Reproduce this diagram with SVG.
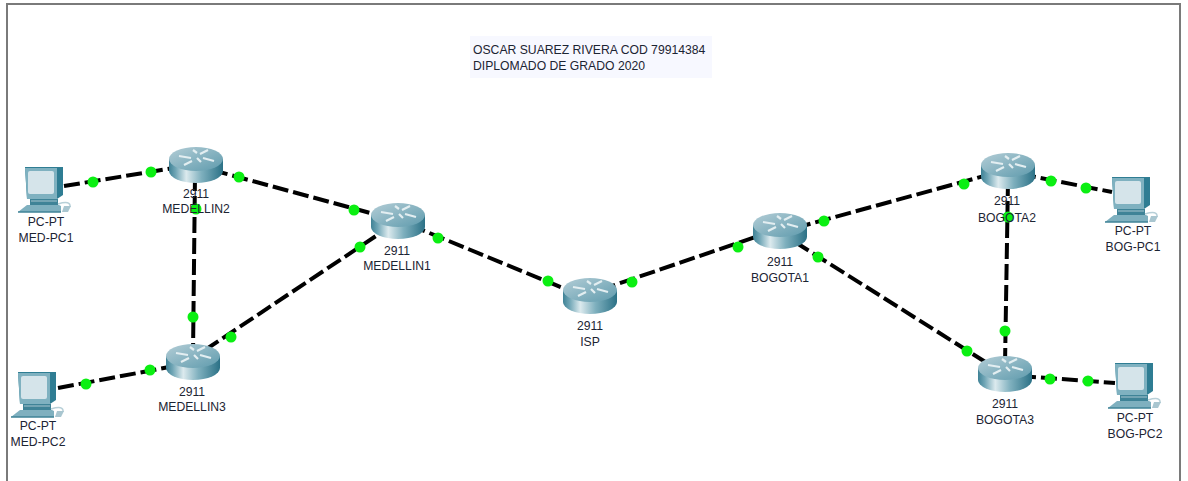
<svg xmlns="http://www.w3.org/2000/svg" width="1188" height="481" viewBox="0 0 1188 481">
<style>
text{font-family:"Liberation Sans",Arial,sans-serif;font-size:12.2px;fill:#1c2433;text-anchor:middle}
.note{text-anchor:start}
.l{stroke:#000;stroke-width:4;stroke-dasharray:16 5;fill:none}
.d{fill:#0bef12}
.f{stroke:#7a7a7a;stroke-width:2;fill:none}
</style>
<defs>
<linearGradient id="rb" x1="0" x2="1" y1="0" y2="0">
<stop offset="0" stop-color="#3f8296"/><stop offset=".12" stop-color="#6fa5b5"/><stop offset=".32" stop-color="#dceaee"/><stop offset=".6" stop-color="#7fb0be"/><stop offset="1" stop-color="#2b7186"/>
</linearGradient>
<linearGradient id="rt" x1="0" x2="1" y1="0" y2="1">
<stop offset="0" stop-color="#b3cdd6"/><stop offset="1" stop-color="#5f9bad"/>
</linearGradient>
<symbol id="router" overflow="visible">
<path d="M-27 0V12A27 12 0 0 0 27 12V0Z" fill="url(#rb)"/>
<ellipse rx="27" ry="12" fill="url(#rt)"/>
<path d="M-17-3L-5-1M-3-9L1-6M5 3L1-1M7-1L18 2M-12 6L-4 2M4-5L12-9" stroke="#e3eef1" stroke-width="2.2" fill="none"/>
</symbol>
<symbol id="pc" overflow="visible">
<path d="M0 0H38V28L32 32H2Z" fill="#2f7d93"/>
<path d="M0 1H32V32H2Z" fill="#7fb1c0"/>
<rect x="3" y="4" width="26" height="23" rx="2" fill="#d5e4ea"/>
<path d="M5 32H33V38H5Z" fill="#3f8397"/>
<path d="M6 34H32" stroke="#a9c6d0" stroke-width="1"/>
<path d="M2 38H34L36 39V45H-7Z" fill="#7fb0bf"/>
<path d="M-7 45H36" stroke="#3f8397" stroke-width="1.5"/>
<path d="M33 37Q46 33 45 40" stroke="#b8d0d8" stroke-width="1.5" fill="none"/>
<path d="M39 39H46L43 45H37Z" fill="#a9c6d0"/>
</symbol>
</defs>
<path class="f" d="M7 481V4H1180V481"/>
<g id="note">
<rect x="470" y="36" width="242" height="42" fill="#f7f8ff"/>
<text class="note" x="473" y="54">OSCAR SUAREZ RIVERA COD 79914384</text>
<text class="note" x="473" y="70">DIPLOMADO DE GRADO 2020</text>
</g>
<g id="connectors">
<path class="l" d="M64 186L180 167"/>
<path class="l" d="M212 170L385 217"/>
<path class="l" d="M195 175L193 355"/>
<path class="l" d="M205 350L385 230"/>
<path class="l" d="M58 388L180 365"/>
<path class="l" d="M410 225L580 295"/>
<path class="l" d="M600 290L770 232"/>
<path class="l" d="M795 228L995 173"/>
<path class="l" d="M795 242L995 368"/>
<path class="l" d="M1008 180L1005 365"/>
<path class="l" d="M1020 174L1112 192"/>
<path class="l" d="M1020 376L1115 383"/>
<g class="d">
<circle cx="93" cy="182" r="5.5"/><circle cx="151" cy="172" r="5.5"/>
<circle cx="239" cy="177" r="5.5"/><circle cx="354" cy="210" r="5.5"/>
<circle cx="196" cy="209" r="5.5"/><circle cx="193" cy="317" r="5.5"/>
<circle cx="231" cy="337" r="5.5"/><circle cx="360" cy="247" r="5.5"/>
<circle cx="86" cy="384" r="5.5"/><circle cx="150" cy="370" r="5.5"/>
<circle cx="438" cy="238" r="5.5"/><circle cx="548" cy="281" r="5.5"/>
<circle cx="632" cy="282" r="5.5"/><circle cx="738" cy="247" r="5.5"/>
<circle cx="824" cy="221" r="5.5"/><circle cx="964" cy="184" r="5.5"/>
<circle cx="818" cy="257" r="5.5"/><circle cx="967" cy="351" r="5.5"/>
<circle cx="1008" cy="217" r="5.5"/><circle cx="1005" cy="331" r="5.5"/>
<circle cx="1051" cy="181" r="5.5"/><circle cx="1086" cy="188" r="5.5"/>
<circle cx="1050" cy="379" r="5.5"/><circle cx="1088" cy="381" r="5.5"/>
</g>
</g>
<g id="MED-PC1"><use href="#pc" x="25" y="167"/><text x="46" y="226">PC-PT</text><text x="46" y="242">MED-PC1</text></g>
<g id="MED-PC2"><use href="#pc" x="18" y="372"/><text x="38" y="430">PC-PT</text><text x="38" y="446">MED-PC2</text></g>
<g id="BOG-PC1"><use href="#pc" x="1112" y="177"/><text x="1133" y="235">PC-PT</text><text x="1133" y="251">BOG-PC1</text></g>
<g id="BOG-PC2"><use href="#pc" x="1115" y="363"/><text x="1135" y="422">PC-PT</text><text x="1135" y="438">BOG-PC2</text></g>
<g id="MEDELLIN2"><use href="#router" x="196" y="159"/><text x="196" y="198">2911</text><text x="196" y="213">MEDELLIN2</text></g>
<g id="MEDELLIN1"><use href="#router" x="398" y="215"/><text x="397" y="255">2911</text><text x="397" y="270">MEDELLIN1</text></g>
<g id="MEDELLIN3"><use href="#router" x="193" y="356"/><text x="192" y="396">2911</text><text x="192" y="411">MEDELLIN3</text></g>
<g id="ISP"><use href="#router" x="590" y="290"/><text x="590" y="330">2911</text><text x="590" y="346">ISP</text></g>
<g id="BOGOTA1"><use href="#router" x="780" y="225"/><text x="780" y="266">2911</text><text x="780" y="282">BOGOTA1</text></g>
<g id="BOGOTA2"><use href="#router" x="1008" y="165"/><text x="1007" y="205">2911</text><text x="1007" y="222">BOGOTA2</text></g>
<g id="BOGOTA3"><use href="#router" x="1005" y="368"/><text x="1005" y="408">2911</text><text x="1005" y="424">BOGOTA3</text></g>
</svg>
